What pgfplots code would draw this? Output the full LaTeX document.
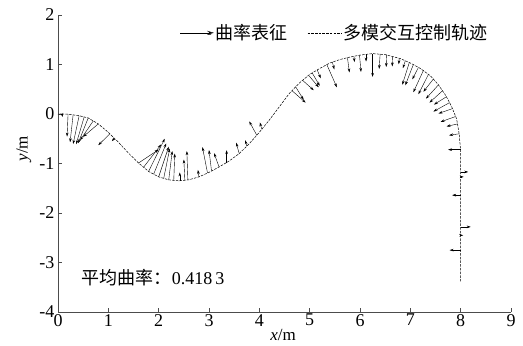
\documentclass[border=0pt]{standalone}
\usepackage{fontspec}
\setmainfont{Liberation Serif}
\newfontfamily\cjk{Noto Sans CJK SC}
\usepackage{pgfplots}
\usepackage{pgfplotstable}
\pgfplotsset{compat=1.18}
\usetikzlibrary{arrows.meta}

\pgfplotstableread{
x y
0 0
0.2 -0.005
0.4 -0.03
0.6 -0.08
0.8 -0.2
1.0 -0.37
1.2 -0.57
1.4 -0.79
1.6 -0.99
1.8 -1.16
2.0 -1.27
2.2 -1.33
2.4 -1.35
2.6 -1.33
2.8 -1.27
3.0 -1.18
3.2 -1.07
3.4 -0.95
3.6 -0.8
3.8 -0.6
4.0 -0.37
4.2 -0.12
4.4 0.15
4.6 0.42
4.8 0.63
5.0 0.8
5.2 0.92
5.4 1.03
5.6 1.1
5.8 1.15
6.0 1.19
6.25 1.22
6.5 1.2
6.8 1.12
7.0 1.03
7.2 0.92
7.4 0.77
7.55 0.6
7.7 0.38
7.82 0.15
7.92 -0.1
7.97 -0.4
8.0 -0.75
8.0 -3.4
}\traj

\pgfplotstableread{
x y u v
0.08 0.0 0.01 -0.06
0.2 -0.005 -0.02 -0.45
0.3 -0.02 -0.06 -0.55
0.42 -0.035 -0.12 -0.57
0.52 -0.06 -0.16 -0.55
0.6 -0.08 -0.2 -0.51
0.7 -0.14 -0.26 -0.39
0.8 -0.2 -0.3 -0.26
1.03 -0.4 -0.23 -0.23
1.12 -0.49 -0.05 -0.06
1.6 -0.99 0.4 0.27
1.7 -1.075 0.35 0.46
1.8 -1.16 0.32 0.66
1.9 -1.215 0.25 0.62
2.0 -1.27 0.2 0.61
2.1 -1.3 0.12 0.6
2.2 -1.33 0.07 0.58
2.3 -1.34 0.02 0.54
2.42 -1.35 0 0.17
2.52 -1.34 -0.02 0.42
2.58 -1.33 -0.02 0.58
2.8 -1.27 -0.02 0.14
2.97 -1.19 -0.1 0.52
3.05 -1.15 -0.05 0.42
3.2 -1.07 -0.1 0.28
3.35 -0.98 0 0.25
3.6 -0.8 -0.06 0.22
3.75 -0.65 -0.03 0.12
3.95 -0.43 -0.15 0.28
4.05 -0.31 -0.04 0.14
4.65 0.47 0.27 -0.24
4.72 0.55 0.16 -0.26
4.86 0.68 0.22 -0.2
4.98 0.78 0.2 -0.24
5.05 0.83 0.15 -0.26
5.15 0.89 0.07 -0.17
5.34 1.0 0.2 -0.46
5.45 1.05 0.04 -0.15
5.75 1.14 0.04 -0.3
5.88 1.17 0.01 -0.12
5.99 1.19 0.03 -0.34
6.12 1.21 0.0 -0.15
6.25 1.22 0.0 -0.47
6.4 1.21 -0.02 -0.3
6.53 1.2 -0.01 -0.25
6.65 1.16 -0.01 -0.2
6.78 1.125 -0.01 -0.12
6.9 1.075 -0.05 -0.15
6.98 1.04 -0.14 -0.45
7.06 1.0 -0.16 -0.42
7.16 0.94 -0.12 -0.24
7.26 0.88 -0.2 -0.44
7.36 0.8 -0.2 -0.4
7.46 0.71 -0.2 -0.26
7.56 0.59 -0.25 -0.28
7.64 0.47 -0.26 -0.24
7.72 0.35 -0.25 -0.16
7.78 0.23 -0.32 -0.18
7.84 0.11 -0.28 -0.1
7.9 -0.05 -0.3 -0.11
7.94 -0.2 -0.22 -0.05
7.97 -0.4 -0.2 -0.03
8.0 -0.72 -0.25 0
8.0 -1.17 0.15 0
8.0 -1.27 0.06 0
8.0 -1.64 -0.17 0
8.0 -2.28 0.2 0
8.0 -2.45 0.05 0
8.0 -2.75 -0.22 0
}\arrowdata

\tikzset{
  arrstyle/.style={black, line width=0.4pt, -{Stealth[length=4pt,width=2.6pt]}},
  trajstyle/.style={black, line width=0.5pt, dash pattern=on 2.5pt off 1.2pt}
}

\begin{document}
\begin{tikzpicture}
\begin{axis}[name=ax,
  scale only axis, width=453pt, height=297pt,
  xmin=0, xmax=9, ymin=-4, ymax=2,
  axis lines*=left,
  axis line style={black!70, line width=0.6pt},
  xtick={0,1,2,3,4,5,6,7,8,9},
  xticklabels={0,1,2,3,4,5,6,7,8,9},
  ytick={-4,-3,-2,-1,0,1,2},
  yticklabels={-4,-3,-2,-1,0,1,2},
  tick align=inside, major tick length=4pt,
  tick style={black!70, line width=0.6pt},
  ticklabel style={font=\fontsize{18}{18}\selectfont},
  xticklabel style={inner sep=2pt},
  xlabel={\textit{x}/m}, ylabel={\textit{y}/m},
  label style={font=\fontsize{17}{17}\selectfont},
  xlabel style={at={(axis description cs:0.497,0)}, anchor=base, inner sep=0pt, yshift=-28.5pt},
  ylabel style={at={(axis description cs:-0.051,0.55)}, anchor=south},
  clip=false,
  legend columns=2,
  legend cell align=left,
  legend style={draw=none, fill=none, at={(axis cs:2.42,1.64)}, anchor=west,
    font=\cjk\fontsize{18}{18}\selectfont, inner sep=0pt,
    /tikz/every even column/.append style={column sep=18pt}},
]
\addplot[arrstyle, quiver={u=\thisrow{u}, v=\thisrow{v}},
  legend image code/.code={
    \draw[black, line width=0.4pt] (0pt,0pt) -- (32pt,0pt);
    \draw[black, line width=0.4pt] (27pt,1.8pt) -- (33pt,0pt) -- (27pt,-1.8pt);}]
  table[x=x, y=y] {\arrowdata};
\addlegendentry{曲率表征}
\addplot[trajstyle, legend image code/.code={\draw[trajstyle] (0pt,0pt) -- (34pt,0pt);}]
  table[x=x, y=y] {\traj};
\addlegendentry{多模交互控制轨迹}
\node[anchor=west, font=\fontsize{18}{18}\selectfont, inner sep=0pt] at (axis cs:0.47,-3.3) {{\cjk 平均曲率：}0.418\,3};
\end{axis}
\pgfresetboundingbox
\path[use as bounding box] ([xshift=-58pt,yshift=-33.3pt]ax.south west) rectangle ([xshift=12pt,yshift=15pt]ax.north east);
\end{tikzpicture}
\end{document}
